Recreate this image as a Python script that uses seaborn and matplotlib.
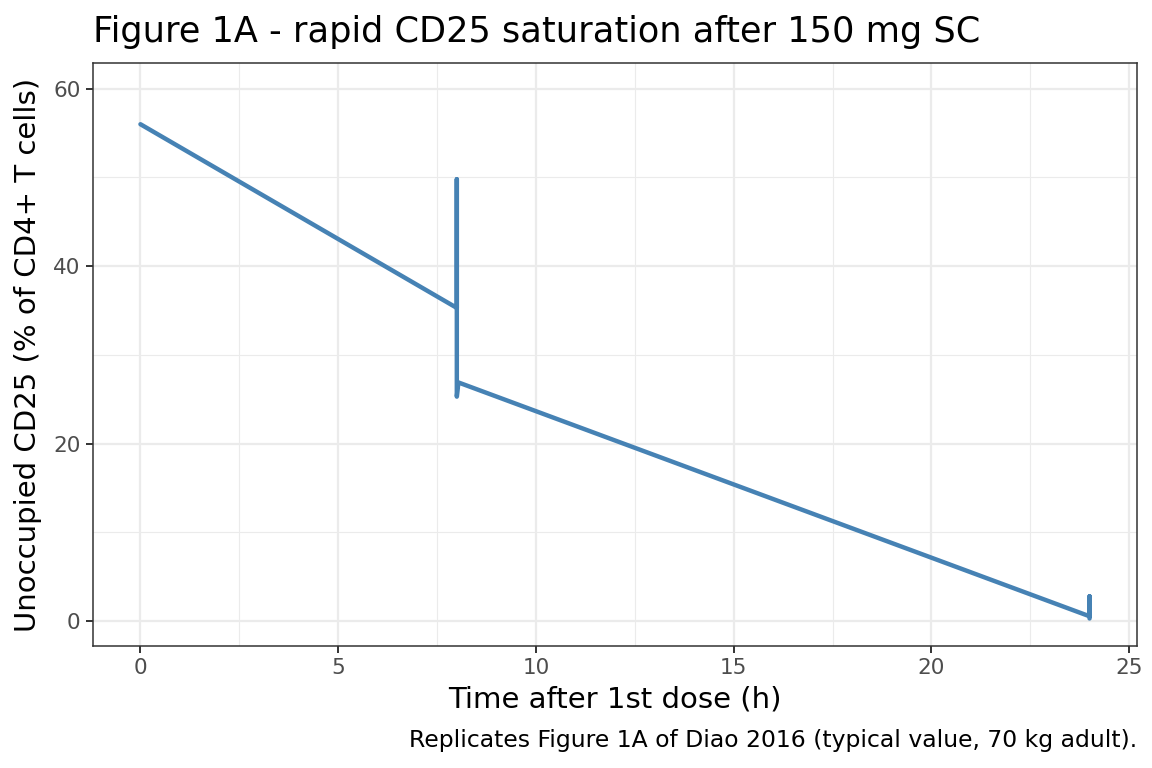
import matplotlib
matplotlib.use("Agg")
import matplotlib.pyplot as plt
import seaborn as sns
import pandas as pd
from matplotlib.ticker import MultipleLocator

# Data
time_h = [0.0, 8.0, 8.0, 8.0, 8.04, 24.0, 24.0, 24.0]
cd25_free = [56.0, 35.3, 49.8, 25.3, 26.9, 0.55, 2.8, 0.3]

x_ticks = [0, 5, 10, 15, 20, 25]
y_ticks = [0, 20, 40, 60]

title = "Figure 1A - rapid CD25 saturation after 150 mg SC"
x_label = "Time after 1st dose (h)"
y_label = "Unoccupied CD25 (% of CD4+ T cells)"
caption = "Replicates Figure 1A of Diao 2016 (typical value, 70 kg adult)."

df = pd.DataFrame({"time": time_h, "cd25": cd25_free})

sns.set_theme(style="white")
plt.rcParams["font.family"] = ["DejaVu Sans"]

W, H = 1152, 768
fig = plt.figure(figsize=(W / 100, H / 100), dpi=100)
fig.patch.set_facecolor("white")

L, R, T, B = 93, 1137, 63, 646
ax = fig.add_axes([L / W, 1 - B / H, (R - L) / W, (B - T) / H])
ax.set_facecolor("white")

sns.lineplot(data=df, x="time", y="cd25", sort=False, estimator=None,
             color="#4682B4", linewidth=3.2, ax=ax, solid_capstyle="round",
             solid_joinstyle="round")

ax.set_xlim(-1.2, 25.2)
ax.set_ylim(-2.8, 62.9)
ax.set_xticks(x_ticks)
ax.set_yticks(y_ticks)
ax.xaxis.set_minor_locator(MultipleLocator(2.5))
ax.yaxis.set_minor_locator(MultipleLocator(10))

ax.grid(which="major", color="#EBEBEB", linewidth=1.6)
ax.grid(which="minor", color="#EBEBEB", linewidth=0.8)
ax.set_axisbelow(True)

for s in ax.spines.values():
    s.set_color("#333333")
    s.set_linewidth(1.1)
    s.set_visible(True)

ax.tick_params(which="major", length=5, width=1.4, color="#333333",
               labelsize=15.5, labelcolor="#4D4D4D", pad=4,
               bottom=True, left=True)
ax.tick_params(which="minor", length=0)

ax.set_xlabel(x_label, fontsize=21, color="black", labelpad=5)
ax.set_ylabel(y_label, fontsize=21, color="black", labelpad=8)

fig.text(L / W, 1 - 42 / H, title, fontsize=25.3, color="black",
         ha="left", va="baseline")
fig.text(R / W, 1 - 741 / H, caption, fontsize=16.9, color="black",
         ha="right", va="center")

fig.savefig("out.png", dpi=100, facecolor="white")
